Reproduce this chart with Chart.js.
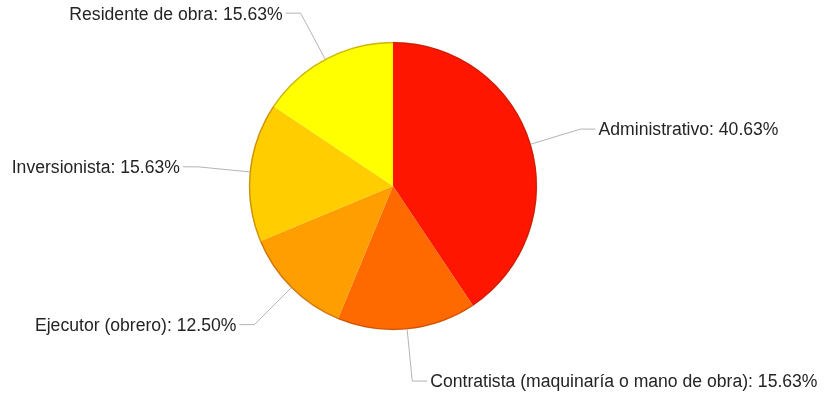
<!DOCTYPE html>
<html>
<head>
<meta charset="utf-8">
<script src="https://cdn.jsdelivr.net/npm/chart.js@4/dist/chart.umd.min.js"></script>
<style>
  body { margin: 0; background: #fff; }
  #wrap { width: 824px; height: 398px; position: relative; }
</style>
</head>
<body>
<div id="wrap"><canvas id="roles"></canvas></div>
<script>
var categories = ['Administrativo', 'Contratista (maquinaría o mano de obra)', 'Ejecutor (obrero)', 'Inversionista', 'Residente de obra'];
var percentages = [40.63, 15.63, 12.50, 15.63, 15.63];
var sliceColors = ['#ff1600', '#ff6a00', '#ff9e00', '#ffcd00', '#ffff00'];

// labels outside the pie, joined to each slice with a bent leader line
var outsideLabels = {
    id: 'outsideLabels',
    afterDatasetsDraw: function(chart) {
        var ctx = chart.ctx;
        var meta = chart.getDatasetMeta(0);
        ctx.save();
        // soft rim round the pie
        var first = meta.data[0];
        ctx.beginPath();
        ctx.arc(first.x, first.y, first.outerRadius - 0.5, 0, Math.PI * 2);
        ctx.strokeStyle = 'rgba(120,40,0,0.35)';
        ctx.lineWidth = 1.5;
        ctx.stroke();

        ctx.font = '17.6px "Liberation Sans", Arial, sans-serif';
        ctx.textBaseline = 'middle';
        meta.data.forEach(function(arc, i) {
            var mid = (arc.startAngle + arc.endAngle) / 2;
            var r = arc.outerRadius;
            var ax = arc.x + Math.cos(mid) * r;
            var ay = arc.y + Math.sin(mid) * r;
            var ex = arc.x + Math.cos(mid) * (r + 52);
            var ey = arc.y + Math.sin(mid) * (r + 52);
            var right = Math.cos(mid) >= 0;
            var hx = ex + (right ? 15 : -15);

            ctx.beginPath();
            ctx.moveTo(ax, ay);
            ctx.lineTo(ex, ey);
            ctx.lineTo(hx, ey);
            ctx.strokeStyle = '#b4b4b4';
            ctx.lineWidth = 1;
            ctx.stroke();

            var text = categories[i] + ': ' + percentages[i].toFixed(2) + '%';
            ctx.fillStyle = '#242424';
            ctx.textAlign = right ? 'left' : 'right';
            ctx.fillText(text, hx + (right ? 3 : -3), ey + 1.5);
        });
        ctx.restore();
    }
};

var ctx = document.getElementById('roles');

var rolesChart = new Chart(ctx, {
    type: 'pie',
    data: {
        labels: categories,
        datasets: [{
            data: percentages,
            backgroundColor: sliceColors,
            borderWidth: 0
        }]
    },
    options: {
        responsive: true,
        maintainAspectRatio: false,
        animation: false,
        layout: {
            padding: { left: 249, right: 287, top: 42, bottom: 68 }
        },
        plugins: {
            legend: { display: false },
            tooltip: { enabled: false }
        }
    },
    plugins: [outsideLabels]
});
</script>
</body>
</html>
